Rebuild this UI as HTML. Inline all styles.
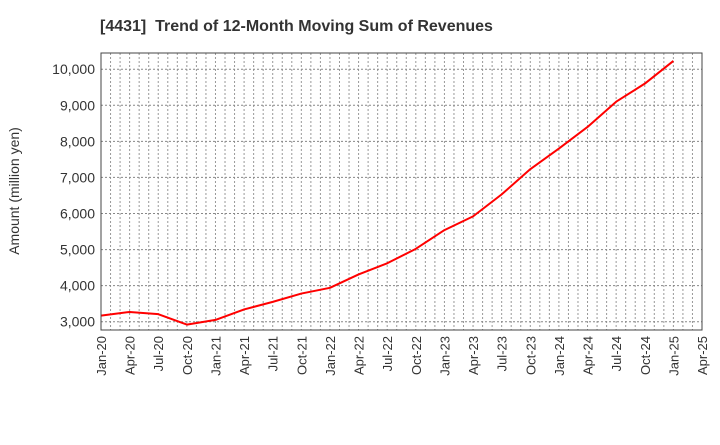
<!DOCTYPE html>
<html><head><meta charset="utf-8"><style>
body{margin:0;background:#fff;}
svg text{font-family:"Liberation Sans",sans-serif;fill:#333;}
</style></head><body>
<svg id="c" width="720" height="440">
<text x="100" y="31" font-size="16" font-weight="bold" xml:space="preserve">[4431]  Trend of 12-Month Moving Sum of Revenues</text>
<text transform="translate(19,191) rotate(-90)" text-anchor="middle" font-size="14">Amount (million yen)</text>
<g id="grid"></g><g id="axes"></g><g id="series"></g>
<rect x="101" y="53" width="601" height="277" fill="none" stroke="#444" stroke-width="1"/>
</svg>
<script>
const categories=["Jan-20","Apr-20","Jul-20","Oct-20","Jan-21","Apr-21","Jul-21","Oct-21","Jan-22","Apr-22","Jul-22","Oct-22","Jan-23","Apr-23","Jul-23","Oct-23","Jan-24","Apr-24","Jul-24","Oct-24","Jan-25","Apr-25"];
const revenues=[3170,3270,3210,2920,3050,3340,3550,3780,3940,4310,4620,5020,5540,5920,6530,7230,7800,8400,9100,9600,10230];
const yTicks=[3000,4000,5000,6000,7000,8000,9000,10000];
const yTickLabels=["3,000","4,000","5,000","6,000","7,000","8,000","9,000","10,000"];
const NS="http://www.w3.org/2000/svg";
const L=101,R=702,T=53,B=330,yMin=2770,yMax=10450;
const nQ=categories.length-1;
const x=i=>L+(R-L)*i/nQ;
const y=v=>B-(v-yMin)/(yMax-yMin)*(B-T);
function mk(tag,attrs,parent){const e=document.createElementNS(NS,tag);for(const k in attrs)e.setAttribute(k,attrs[k]);document.getElementById(parent).appendChild(e);return e;}
for(let m=1;m<nQ*3;m++){
  const xx=L+(R-L)*m/(nQ*3);
  const g=mk("line",{x1:xx,x2:xx,y1:T,y2:B,stroke:"#999","stroke-dasharray":"2,2","stroke-width":1},"grid");
  
  
}
yTicks.forEach((v,i)=>{
  const g=mk("line",{x1:L,x2:R,y1:y(v),y2:y(v),stroke:"#888","stroke-dasharray":"2,2","stroke-width":1},"grid");
  
  
  const t=mk("text",{x:L-6,y:y(v)+5,"text-anchor":"end","font-size":14},"axes");
  t.textContent=yTickLabels[i];
  
  
});
categories.forEach((c,i)=>{
  const t=mk("text",{transform:`translate(${x(i)+5},336) rotate(-90)`,"text-anchor":"end","font-size":13},"axes");
  t.textContent=c;
  
  
});
const p=mk("polyline",{points:revenues.map((v,i)=>x(i)+","+y(v)).join(" "),fill:"none",stroke:"#ff0000","stroke-width":2,"stroke-linejoin":"round"},"series");


</script>
</body></html>
